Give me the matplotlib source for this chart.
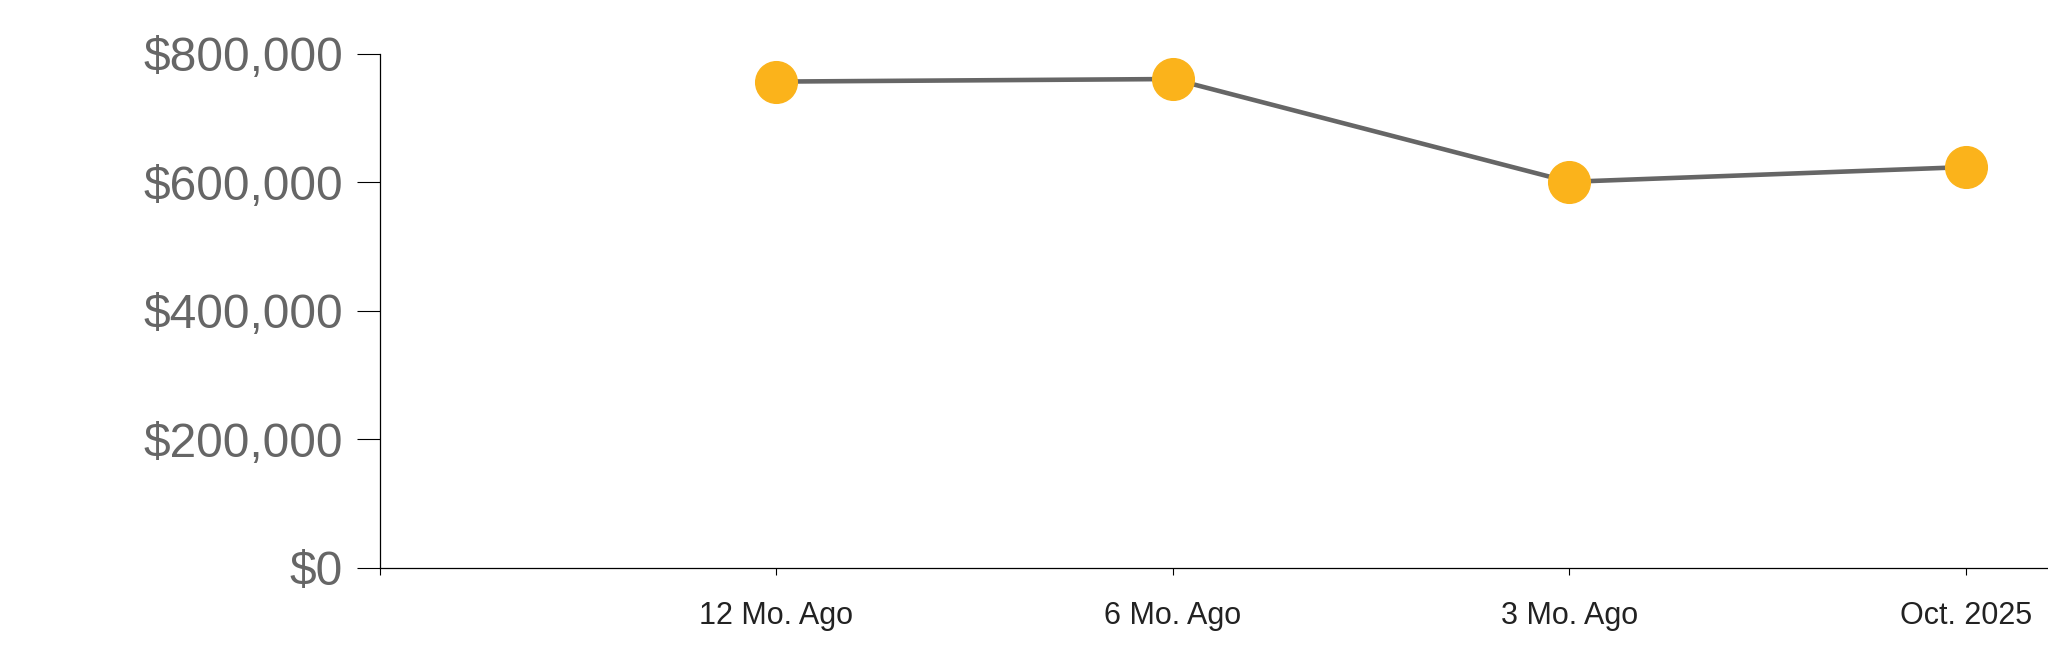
import matplotlib.pyplot as plt
from matplotlib.ticker import FuncFormatter

plt.rcParams['font.family'] = ['Liberation Sans', 'DejaVu Sans']

# data
periods = ['12 Mo. Ago', '6 Mo. Ago', '3 Mo. Ago', 'Oct. 2025']
prices = [757000, 761000, 601000, 624000]
y_ticks = [0, 200000, 400000, 600000, 800000]

fig = plt.figure(figsize=(20.48, 6.63), dpi=100)
ax = fig.add_axes([0.1855, 0.1433, 0.8145, 0.7753])

x = list(range(1, len(periods) + 1))
ax.plot(x, prices, color='#666666', linewidth=3.3, zorder=2)
ax.plot(x, prices, linestyle='none', marker='o', markersize=30,
        markerfacecolor='#FBB31B', markeredgecolor='#FBB31B', zorder=3)

ax.set_xlim(0, 4.207)
ax.set_ylim(0, 800000)

ax.set_xticks([0] + x)
ax.set_xticklabels([''] + periods, fontsize=22, color='#222222')
ax.set_yticks(y_ticks)
ax.yaxis.set_major_formatter(FuncFormatter(lambda v, p: '${:,.0f}'.format(v)))

ax.tick_params(axis='y', length=16.5, width=0.8, pad=10, labelsize=34.5,
               labelcolor='#666666', color='black')
ax.tick_params(axis='x', length=5, width=0.8, pad=19, color='black')

for side in ['top', 'right']:
    ax.spines[side].set_visible(False)
for side in ['left', 'bottom']:
    ax.spines[side].set_linewidth(0.9)
    ax.spines[side].set_color('black')

fig.savefig('out.png', dpi=100)
